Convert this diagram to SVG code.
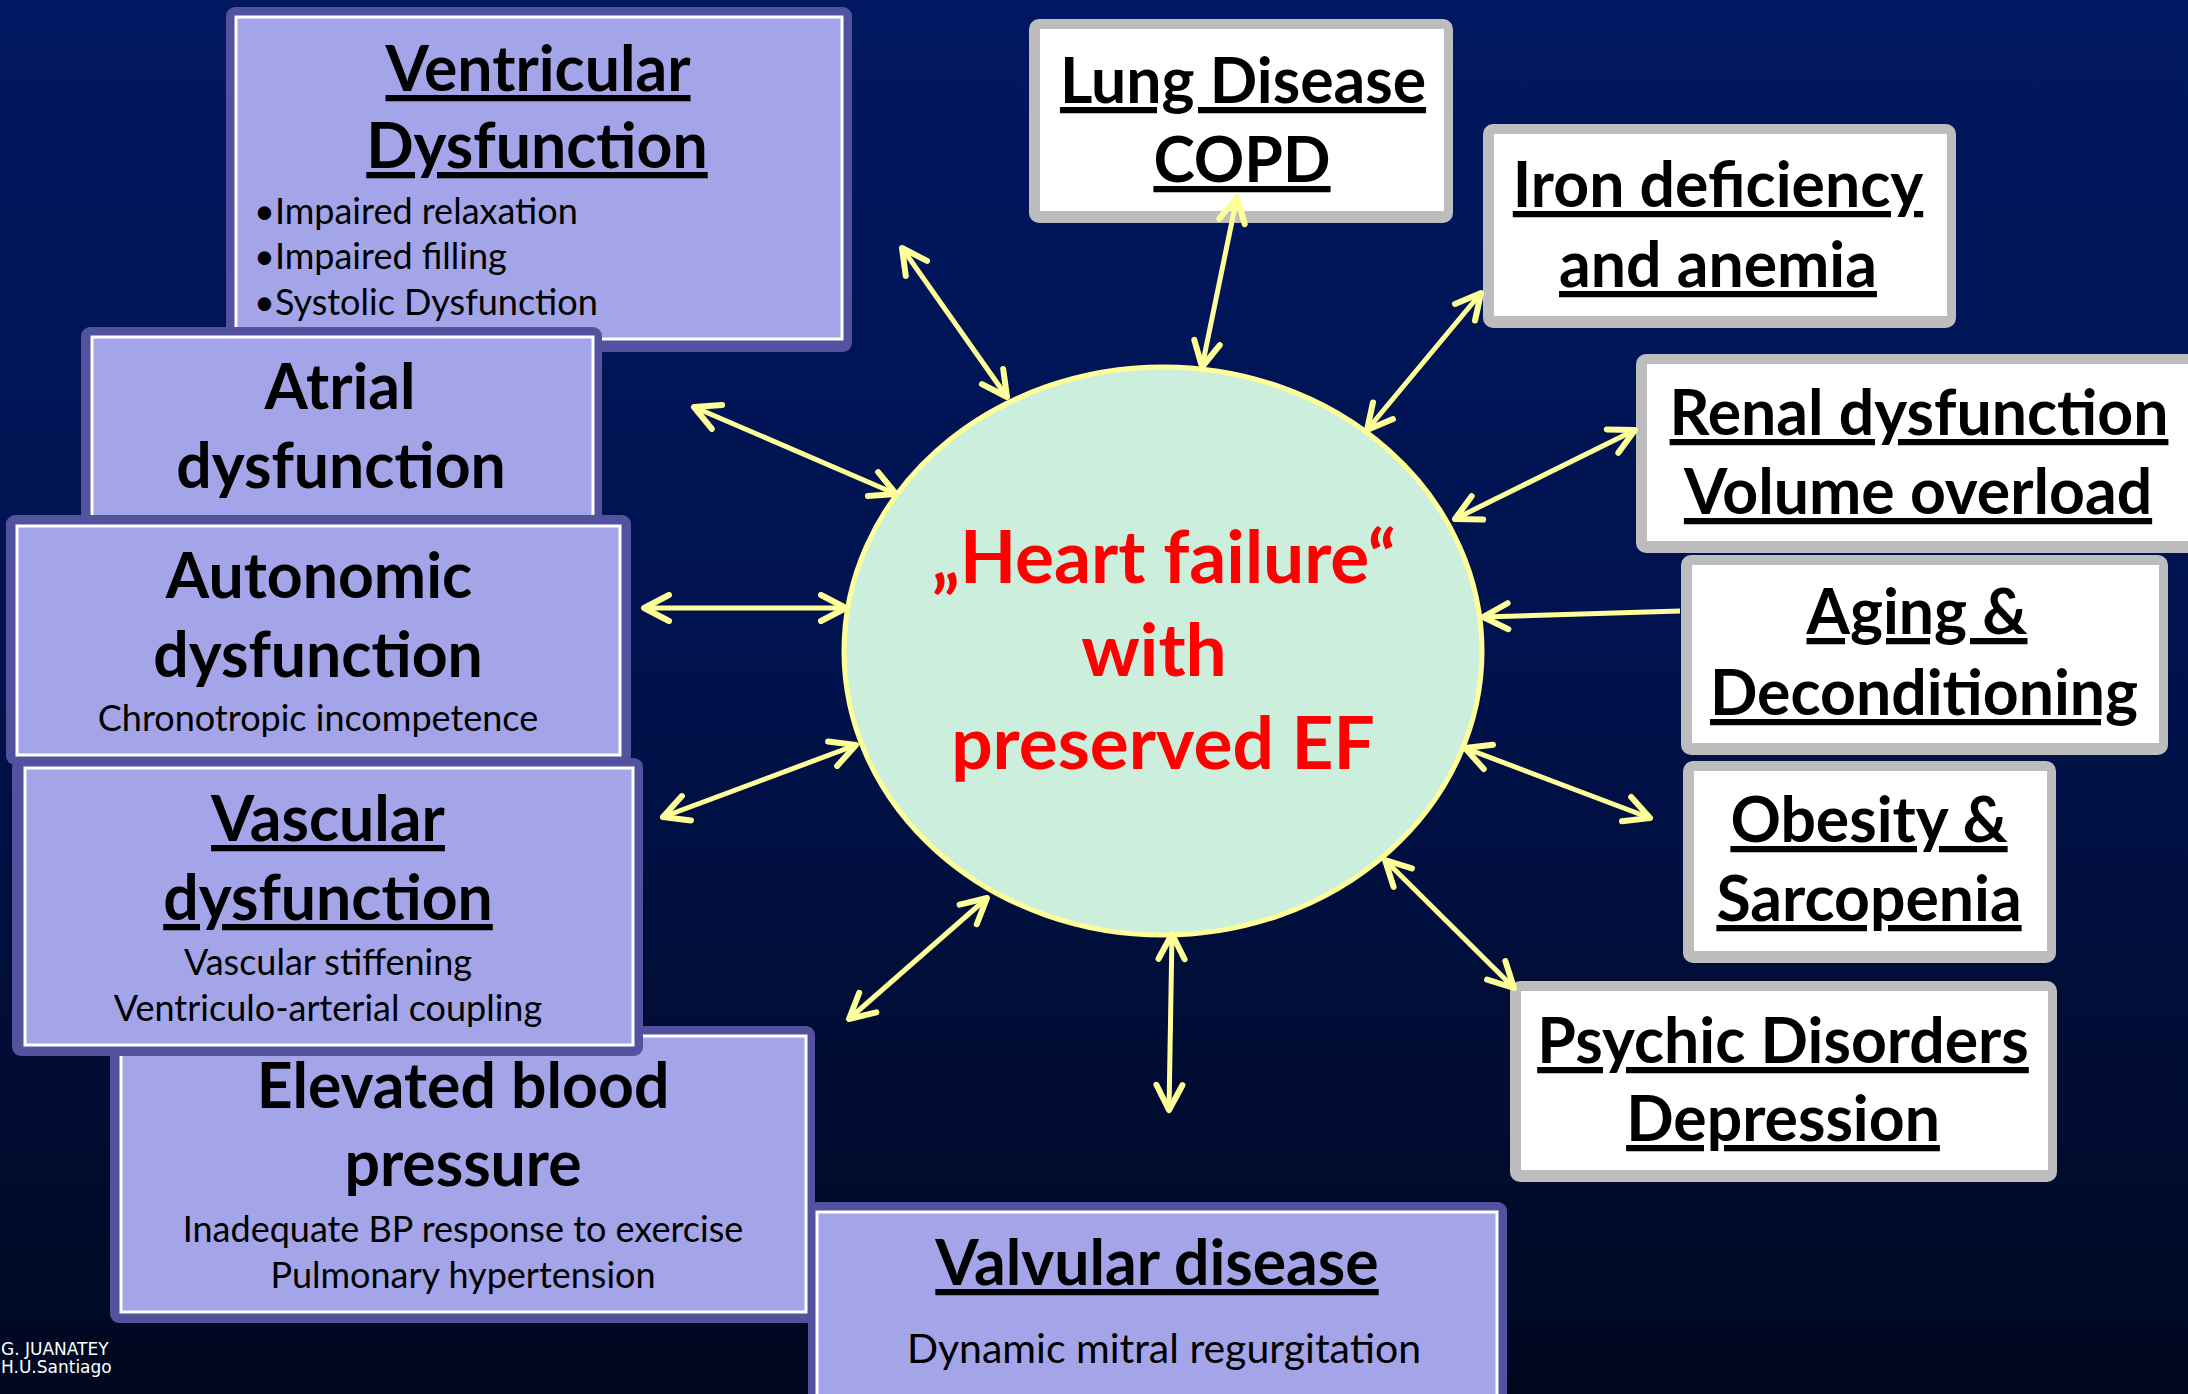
<svg xmlns="http://www.w3.org/2000/svg" width="2188" height="1394" viewBox="0 0 2188 1394">
<defs>
<linearGradient id="bg" x1="0" y1="0" x2="0" y2="1">
<stop offset="0" stop-color="#001862"/>
<stop offset="0.45" stop-color="#00134f"/>
<stop offset="1" stop-color="#000820"/>
</linearGradient>
<marker id="ah" viewBox="-32 -18 38 36" refX="0" refY="0" markerWidth="38" markerHeight="36" markerUnits="userSpaceOnUse" orient="auto-start-reverse">
<path d="M-25,-13 L0,0 L-25,13" fill="none" stroke="#ffff99" stroke-width="6" stroke-linecap="round" stroke-linejoin="round"/>
</marker>
<style>
.frame{fill:#52529f;}
.lav{fill:#a4a4e8;stroke:#ffffff;stroke-width:3;}
.gframe{fill:#bdbdbd;}
.wbox{fill:#ffffff;}
.t{font-family:Lato,"Open Sans","Liberation Sans",sans-serif;font-weight:bold;font-size:62.5px;fill:#000;text-anchor:middle;}
.u{text-decoration:underline;}
.b{font-family:Lato,"Open Sans","Liberation Sans",sans-serif;font-size:36px;fill:#000;text-anchor:middle;}
.bl{text-anchor:start;}
.hf{font-family:Lato,"Open Sans","Liberation Sans",sans-serif;font-weight:bold;font-size:73px;fill:#ff0000;text-anchor:middle;}
.c{fill:none;stroke:#ffff99;stroke-width:5;marker-end:url(#ah);}
.c2{marker-start:url(#ah);}
.cr{font-family:"DejaVu Sans",sans-serif;font-size:17px;fill:#ffffff;}
</style>
</defs>
<rect x="0" y="0" width="2188" height="1394" fill="url(#bg)"/>

<g id="ventricular">
<rect class="frame" x="226" y="7" width="626" height="345" rx="9"/>
<rect class="lav" x="236" y="17" width="606" height="322"/>
<text class="t u" x="538" y="91">Ventricular</text>
<text class="t u" x="537" y="168">Dysfunction</text>
<text class="b bl" x="254" y="224">•Impaired relaxation</text>
<text class="b bl" x="254" y="269">•Impaired filling</text>
<text class="b bl" x="254" y="315">•Systolic Dysfunction</text>
</g>

<g id="atrial">
<rect class="frame" x="81" y="327" width="521" height="200" rx="9"/>
<rect class="lav" x="92" y="337" width="501" height="185"/>
<text class="t" x="340" y="409">Atrial</text>
<text class="t" x="341" y="488">dysfunction</text>
</g>

<g id="autonomic">
<rect class="frame" x="6" y="515" width="625" height="250" rx="9"/>
<rect class="lav" x="17" y="526" width="603" height="229"/>
<text class="t" x="319" y="598">Autonomic</text>
<text class="t" x="318" y="677">dysfunction</text>
<text class="b" x="318" y="731">Chronotropic incompetence</text>
</g>

<g id="elevated">
<rect class="frame" x="110" y="1026" width="705" height="297" rx="9"/>
<rect class="lav" x="121" y="1036" width="685" height="276"/>
<text class="t" x="463" y="1108">Elevated blood</text>
<text class="t" x="463" y="1186">pressure</text>
<text class="b" x="463" y="1242">Inadequate BP response to exercise</text>
<text class="b" x="463" y="1288">Pulmonary hypertension</text>
</g>

<g id="vascular">
<rect class="frame" x="12" y="758" width="631" height="298" rx="9"/>
<rect class="lav" x="25" y="768" width="608" height="277"/>
<text class="t u" x="328" y="841">Vascular</text>
<text class="t u" x="328" y="920">dysfunction</text>
<text class="b" x="328" y="975">Vascular stiffening</text>
<text class="b" x="328" y="1021">Ventriculo-arterial coupling</text>
</g>

<g id="valvular">
<rect class="frame" x="808" y="1202" width="699" height="210" rx="9"/>
<rect class="lav" x="817" y="1212" width="680" height="190"/>
<text class="t u" x="1157" y="1285">Valvular disease</text>
<text class="b" x="1164" y="1363" style="font-size:41px">Dynamic mitral regurgitation</text>
</g>

<g id="lung">
<rect class="gframe" x="1029" y="19" width="424" height="204" rx="10"/>
<rect class="wbox" x="1040" y="29" width="404" height="182"/>
<text class="t u" x="1243" y="103">Lung Disease</text>
<text class="t u" x="1242" y="182">COPD</text>
</g>

<g id="iron">
<rect class="gframe" x="1483" y="124" width="473" height="204" rx="10"/>
<rect class="wbox" x="1494" y="134" width="453" height="182"/>
<text class="t u" x="1718" y="207">Iron deficiency</text>
<text class="t u" x="1718" y="287">and anemia</text>
</g>

<g id="renal">
<rect class="gframe" x="1636" y="354" width="570" height="199" rx="10"/>
<rect class="wbox" x="1647" y="364" width="560" height="177"/>
<text class="t u" x="1919" y="435">Renal dysfunction</text>
<text class="t u" x="1918" y="514">Volume overload</text>
</g>

<g id="aging">
<rect class="gframe" x="1681" y="555" width="487" height="200" rx="10"/>
<rect class="wbox" x="1692" y="565" width="467" height="178"/>
<text class="t u" x="1917" y="634">Aging &amp;</text>
<text class="t u" x="1924" y="715">Deconditioning</text>
</g>

<g id="obesity">
<rect class="gframe" x="1683" y="761" width="373" height="202" rx="10"/>
<rect class="wbox" x="1694" y="771" width="353" height="180"/>
<text class="t u" x="1869" y="842">Obesity &amp;</text>
<text class="t u" x="1869" y="921">Sarcopenia</text>
</g>

<g id="psychic">
<rect class="gframe" x="1510" y="981" width="547" height="201" rx="10"/>
<rect class="wbox" x="1521" y="991" width="527" height="179"/>
<text class="t u" x="1783" y="1063">Psychic Disorders</text>
<text class="t u" x="1783" y="1141">Depression</text>
</g>

<g id="hfpef">
<ellipse cx="1163" cy="651" rx="319" ry="284" fill="#cbeedd" stroke="#ffff99" stroke-width="5"/>
<text class="hf" x="1164" y="583">„Heart failure“</text>
<text class="hf" x="1154" y="676">with</text>
<text class="hf" x="1163" y="769">preserved EF</text>
</g>

<g id="connectors">
<line class="c c2" x1="902" y1="248" x2="1007" y2="397"/>
<line class="c c2" x1="694" y1="407" x2="896" y2="494"/>
<line class="c c2" x1="644" y1="608" x2="846" y2="608"/>
<line class="c c2" x1="663" y1="817" x2="856" y2="745"/>
<line class="c c2" x1="849" y1="1019" x2="987" y2="898"/>
<line class="c c2" x1="1169" y1="1110" x2="1172" y2="934"/>
<line class="c c2" x1="1514" y1="988" x2="1385" y2="860"/>
<line class="c c2" x1="1650" y1="818" x2="1465" y2="748"/>
<line class="c" x1="1680" y1="611" x2="1483" y2="617"/>
<line class="c c2" x1="1635" y1="430" x2="1455" y2="519"/>
<line class="c c2" x1="1481" y1="293" x2="1367" y2="430"/>
<line class="c c2" x1="1237" y1="197" x2="1202" y2="367"/>
</g>

<text class="cr" x="1" y="1355">G. JUANATEY</text>
<text class="cr" x="1" y="1373">H.U.Santiago</text>
</svg>
